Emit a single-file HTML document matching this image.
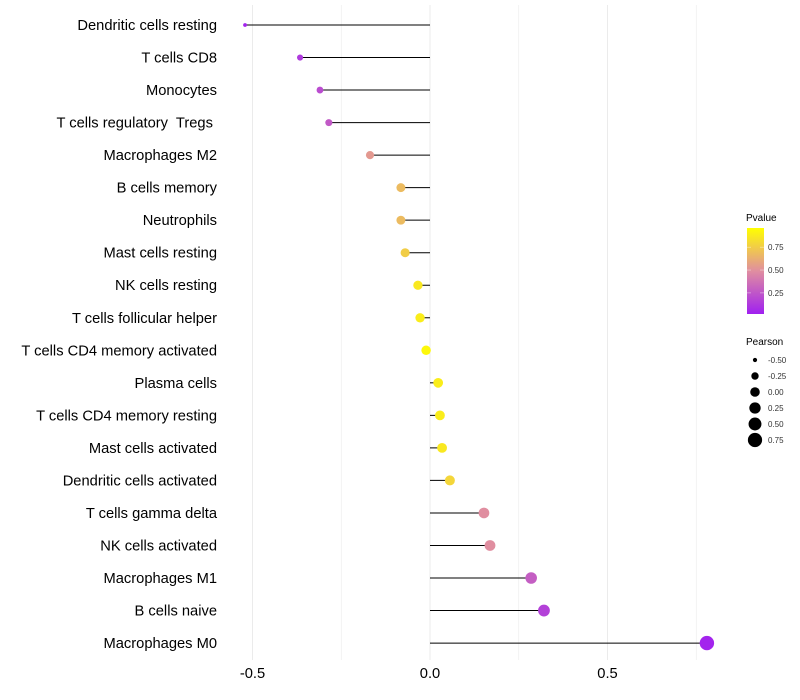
<!DOCTYPE html>
<html><head><meta charset="utf-8"><style>
body{margin:0;background:#fff}
svg{display:block;font-family:"Liberation Sans",sans-serif}
text{white-space:pre}
</style></head><body>
<svg id="chart" width="800" height="700">
<defs><linearGradient id="pg" x1="0" y1="1" x2="0" y2="0">
<stop offset="0" stop-color="#a020f0"/><stop offset="0.5" stop-color="#e08ea0"/><stop offset="1" stop-color="#ffff00"/></linearGradient></defs>
<g id="grid"></g>
<g id="marks"></g>
<g id="ylabels"></g>
<g id="xlabels"></g>
<g>
<text x="746" y="221" font-size="10">Pvalue</text>
<rect x="747" y="228" width="17" height="86" fill="url(#pg)"/>
<g id="cbticks"></g>
</g>
<g id="sizeleg">
<text x="746" y="345" font-size="10">Pearson</text>
</g>
</svg>
<script>
const categories=["Dendritic cells resting","T cells CD8","Monocytes","T cells regulatory  Tregs ","Macrophages M2","B cells memory","Neutrophils","Mast cells resting","NK cells resting","T cells follicular helper","T cells CD4 memory activated","Plasma cells","T cells CD4 memory resting","Mast cells activated","Dendritic cells activated","T cells gamma delta","NK cells activated","Macrophages M1","B cells naive","Macrophages M0"];
const pearson=[-0.521,-0.366,-0.31,-0.285,-0.169,-0.082,-0.082,-0.07,-0.034,-0.028,-0.011,0.023,0.028,0.034,0.056,0.152,0.169,0.285,0.321,0.78];
const pvalue=[0.02,0.12,0.2,0.26,0.55,0.7,0.7,0.78,0.9,0.92,0.97,0.92,0.92,0.9,0.82,0.5,0.5,0.28,0.15,0.02];
const xTicks=[-0.5,0,0.5];
const xTickLabels=["-0.5","0.0","0.5"];
const cbTicks=[0.25,0.5,0.75];
const sizeLegend=[-0.5,-0.25,0,0.25,0.5,0.75];
const NS="http://www.w3.org/2000/svg";
const x=v=>430+v*355;
const y=i=>25+i*32.53;
const r=v=>7.2*Math.sqrt(Math.max(v+0.62,0.01)/1.4);
function lerp(a,b,t){return a.map((c,k)=>Math.round(c+(b[k]-c)*t));}
function col(p){const A=[160,32,240],M=[224,142,160],B=[255,255,0];
 const c=p<0.5?lerp(A,M,p/0.5):lerp(M,B,(p-0.5)/0.5);return `rgb(${c.join(',')})`;}
function mk(t,a,parent){const e=document.createElementNS(NS,t);for(const k in a)e.setAttribute(k,a[k]);parent.appendChild(e);return e;}
const grid=document.getElementById('grid');
for(let v=-0.5;v<=0.76;v+=0.25){const g=mk('line',{x1:x(v),x2:x(v),y1:5,y2:660,stroke:'#ebebeb','stroke-width':Math.abs(v*4%2)<0.01?1:0.6},grid);

}
const marks=document.getElementById('marks'),yl=document.getElementById('ylabels');
categories.forEach((c,i)=>{
 const l=mk('line',{x1:x(0),x2:x(pearson[i]),y1:y(i),y2:y(i),stroke:'#000','stroke-width':1},marks);
 
 
 const p=mk('circle',{cx:x(pearson[i]),cy:y(i),r:r(pearson[i]),fill:col(pvalue[i])},marks);
 
 
 const t=mk('text',{x:217,y:y(i)+5,'text-anchor':'end','font-size':14.7,fill:'#000'},yl);t.textContent=c;
 
 
});
const xl=document.getElementById('xlabels');
xTicks.forEach((v,i)=>{const t=mk('text',{x:x(v),y:678,'text-anchor':'middle','font-size':14.7,fill:'#000'},xl);t.textContent=xTickLabels[i];
 
 });
const cb=document.getElementById('cbticks');
cbTicks.forEach(v=>{const yy=313-(v-0.03)/0.93*85;
 mk('line',{x1:747,x2:751,y1:yy,y2:yy,stroke:'#fff','stroke-width':0.6,opacity:0.6},cb);
 mk('line',{x1:760,x2:764,y1:yy,y2:yy,stroke:'#fff','stroke-width':0.6,opacity:0.6},cb);
 const t=mk('text',{x:768,y:yy+3,'font-size':8,fill:'#333'},cb);t.textContent=v.toFixed(2);
 
 });
const sl=document.getElementById('sizeleg');
sizeLegend.forEach((v,i)=>{const yy=360+i*16;
 const c=mk('circle',{cx:755,cy:yy,r:r(v)},sl);
 
 
 const t=mk('text',{x:768,y:yy+3,'font-size':8,fill:'#333'},sl);t.textContent=v.toFixed(2);
 
 });
</script>
</body></html>
